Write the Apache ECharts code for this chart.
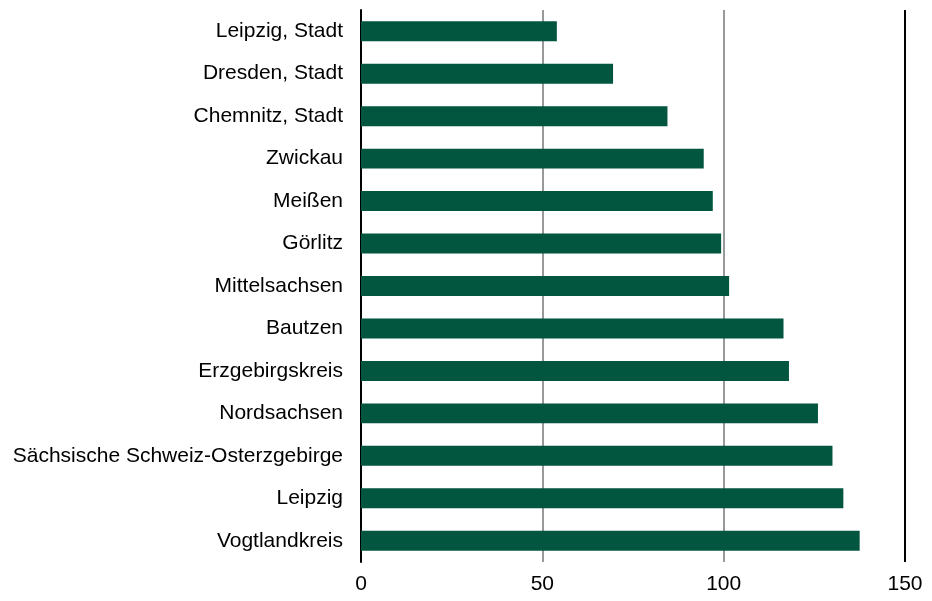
<!DOCTYPE html>
<html lang="de">
<head>
    <meta charset="UTF-8">
    <script src="https://cdn.jsdelivr.net/npm/echarts@6/dist/echarts.min.js"></script>
    <title>Sachsen Kreise</title>
    <style>
        html, body { margin: 0; padding: 0; background: #fff; }
    </style>
</head>
<body>
<div id="main" style="width: 932px;height:601px;"></div>
<script type="text/javascript">
    // Kreise und Werte (von oben nach unten)
    var kreise = ['Leipzig, Stadt', 'Dresden, Stadt', 'Chemnitz, Stadt', 'Zwickau', 'Meißen', 'Görlitz',
        'Mittelsachsen', 'Bautzen', 'Erzgebirgskreis', 'Nordsachsen',
        'Sächsische Schweiz-Osterzgebirge', 'Leipzig', 'Vogtlandkreis'];
    var werte = [54, 69.5, 84.5, 94.5, 97, 99.3, 101.5, 116.5, 118, 126, 130, 133, 137.5];
    var ticks = [0, 50, 100, 150];

    var myChart = echarts.init(document.getElementById('main'));

    var option = {
        animation: false,
        grid: {
            left: 361,
            right: 27,
            top: 10,
            bottom: 39
        },
        xAxis: {
            type: 'value',
            min: ticks[0],
            max: ticks[ticks.length - 1],
            interval: 50,
            axisLine: { show: false },
            axisTick: { show: false },
            axisLabel: {
                color: '#000',
                fontSize: 21,
                fontFamily: 'Liberation Sans, Arial, sans-serif',
                margin: 12
            },
            splitLine: {
                show: true,
                lineStyle: {
                    color: ['#000', '#999', '#999', '#000'],
                    width: 2
                }
            }
        },
        yAxis: {
            type: 'category',
            inverse: true,
            data: kreise,
            axisLine: { show: true, lineStyle: { color: '#000', width: 2 } },
            axisTick: { show: false },
            axisLabel: {
                color: '#000',
                fontSize: 21,
                fontFamily: 'Liberation Sans, Arial, sans-serif',
                margin: 18
            }
        },
        series: [
            {
                type: 'bar',
                data: werte,
                barCategoryGap: '53%',
                itemStyle: { color: '#02553f' },
                z: 3
            }
        ]
    };

    myChart.setOption(option);
</script>
</body>
</html>
